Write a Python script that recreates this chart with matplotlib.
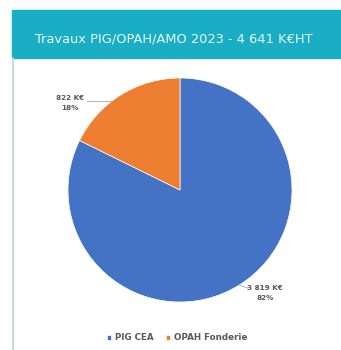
import numpy as np
import matplotlib.pyplot as plt
from matplotlib.patches import Rectangle
from matplotlib.lines import Line2D

# Travaux 2023 par dispositif (K€ HT)
categories = ["PIG CEA", "OPAH Fonderie"]
montants = [3819, 822]
labels = ["3 819 K€\n82%", "822 K€\n18%"]
colors = ["#4472C4", "#ED7D31"]
title = "Travaux PIG/OPAH/AMO 2023 - 4 641 K€HT"

W, H = 341, 350
fig = plt.figure(figsize=(W / 100, H / 100), dpi=100)
fig.patch.set_facecolor("white")

# bandeau de titre + bord gauche du panneau
fig.patches.append(Rectangle((12 / W, 1 - 58 / H), 1 - 12 / W, 48 / H,
                             transform=fig.transFigure, color="#19AEC4", zorder=0))
fig.lines.append(Line2D([12.5 / W, 12.5 / W], [0, 1 - 58 / H],
                        transform=fig.transFigure, color="#BCD3EA", lw=1.2))
fig.text(174 / W, 1 - 39 / H, title, color="#E8F7FA", fontsize=9.4,
         ha="center", va="center")

# camembert
cx, cy, r = 180, 190, 112
ax = fig.add_axes([(cx - r) / W, 1 - (cy + r) / H, 2 * r / W, 2 * r / H])
wedges, _ = ax.pie(montants, colors=colors, startangle=90, counterclock=False,
                   wedgeprops=dict(linewidth=0.5, edgecolor="white"))
ax.set_xlim(-1, 1)
ax.set_ylim(-1, 1)
ax.set_aspect("equal")

# étiquettes de données (position du texte, en pixels) et lignes de rappel
pos = {0: (265, 293), 1: (70, 103)}
for i, w in enumerate(wedges):
    tx, ty = (pos[i][0] - cx) / r, (cy - pos[i][1]) / r
    ax.text(tx, ty, labels[i], ha="center", va="center", fontsize=5.2,
            fontweight="bold", color="#595959", linespacing=1.6, clip_on=False)
    if i == 1:
        ly = (cy - 101) / r
        lx1 = -np.sqrt(1 - ly ** 2)
        ax.plot([(87 - cx) / r, lx1], [ly, ly], color="#A6A6A6", lw=0.6,
                clip_on=False)
    else:
        ang = np.deg2rad((w.theta1 + w.theta2) / 2)
        ax.plot([np.cos(ang), (248 - cx) / r], [np.sin(ang), (cy - 288) / r],
                color="#A6A6A6", lw=0.6, clip_on=False)

# légende
fig.legend(wedges, categories, loc="center", bbox_to_anchor=(177 / W, 1 - 338 / H),
           ncol=2, frameon=False, handlelength=0.5, handleheight=0.5,
           handletextpad=0.4, columnspacing=1.4, labelcolor="#595959",
           prop=dict(weight="bold", size=6.3))

fig.savefig("out.png", dpi=100)
